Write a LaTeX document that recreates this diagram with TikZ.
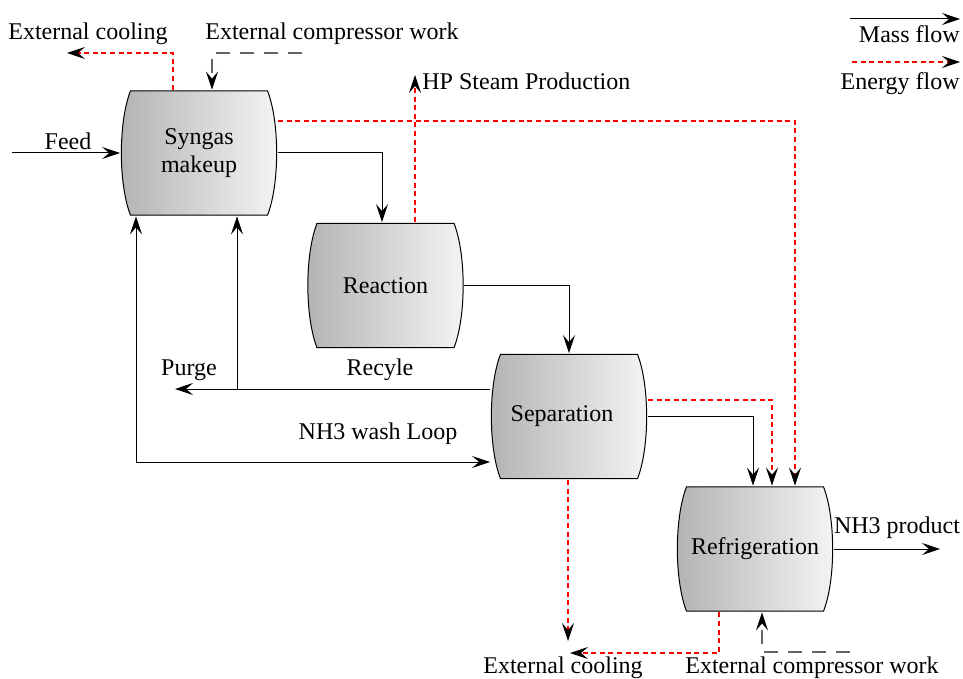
\documentclass[tikz,border=0pt]{standalone}
\usepackage{fontspec}
\setmainfont{Liberation Serif}
\usepackage{tikz}
\usetikzlibrary{arrows.meta, calc, positioning}

\tikzstyle{unit} = [rectangle,
minimum width=78.5pt,
minimum height=63pt,
align=center,
path picture={
\shadedraw[left color=gray!60, right color=white!96!black, line width=0.5pt]
([xshift=5pt,yshift=-0.4pt]path picture bounding box.north west)
-- ([xshift=-5pt,yshift=-0.4pt]path picture bounding box.north east)
.. controls ([xshift=1.1pt,yshift=-16pt]path picture bounding box.north east)
and ([xshift=1.1pt,yshift=16pt]path picture bounding box.south east)
.. ([xshift=-5pt,yshift=0.4pt]path picture bounding box.south east)
-- ([xshift=5pt,yshift=0.4pt]path picture bounding box.south west)
.. controls ([xshift=-1.1pt,yshift=16pt]path picture bounding box.south west)
and ([xshift=-1.1pt,yshift=-16pt]path picture bounding box.north west)
.. cycle;
}]
\tikzstyle{flowtext} = [inner sep=0pt, anchor=base]
\tikzstyle{mass} = [line width=0.5pt,
-{Stealth[length=9pt, width=6pt, inset=3.5pt]}]
\tikzstyle{energy} = [red, line width=0.6pt,
dash pattern=on 2.5pt off 1.8pt,
-{Stealth[black, length=9pt, width=6pt, inset=3.5pt]}]
\tikzstyle{work} = [black!60, line width=0.6pt,
dash pattern=on 7pt off 5pt,
-{Stealth[black, length=9pt, width=6pt, inset=3.5pt]}]

\begin{document}
\begin{tikzpicture}[x=0.5pt, y=-0.5pt, font=\fontsize{12}{14}\selectfont]
\useasboundingbox (0,0) rectangle (963,679);

% process units
\node (syn) [unit] at (199,153) {Syngas\\makeup};
\node (rea) [unit] at (385.5,285.5) {Reaction};
\node (sep) [unit] at (569,416.5) {Separation\hspace*{7pt}};
\node (ref) [unit] at (755,549) {Refrigeration};

% free ends
\coordinate (feed) at (12,153);
\coordinate (hp) at (415,75);
\coordinate (purge) at (175,389);
\coordinate (rcyc) at (237,389);
\coordinate (prod) at (940,549);
\coordinate (coolA) at (67,53);
\coordinate (workA) at (302,53);
\coordinate (coolB) at (568,641);
\coordinate (coolC) at (570,653);
\coordinate (workB) at (850,652);
\coordinate (massA) at (850,19);
\coordinate (massB) at (960,19);
\coordinate (enA) at (852,62);
\coordinate (enB) at (960,62);

% texts
\node (coolAtext) [flowtext] at (88,40) {External cooling};
\node (workAtext) [flowtext] at (332,40) {External compressor work};
\node (hptext) [flowtext, anchor=base west] at (422,90) {HP Steam Production};
\node (feedtext) [flowtext] at (68,150) {Feed};
\node (purgetext) [flowtext] at (189,375) {Purge};
\node (rcytext) [flowtext] at (380,375) {Recyle};
\node (washtext) [flowtext] at (378,439) {NH3 wash Loop};
\node (prodtext) [flowtext] at (897,533) {NH3 product};
\node (coolBtext) [flowtext] at (563,673) {External cooling};
\node (workBtext) [flowtext] at (812,673) {External compressor work};
\node (masstext) [flowtext, anchor=base east] at (960,43) {Mass flow};
\node (entext) [flowtext, anchor=base east] at (960,90) {Energy flow};

% mass flows
\draw [mass] (feed) -- (syn.west);
\draw [mass] (syn.east) -| ([xshift=-1.75pt]rea.north);
\draw [mass] (rea.east) -| (sep.north);
\draw [mass] (sep.east) -| ([xshift=-1pt]ref.north);
\draw [mass] (purge -| sep.west) -- (purge);
\draw [mass] (rcyc) -- (rcyc |- syn.south);
\draw [mass, {Stealth[length=9pt, width=6pt, inset=3.5pt]}-{Stealth[length=9pt, width=6pt, inset=3.5pt]}]
([xshift=-31.5pt]syn.south) |- ([yshift=-22.75pt]sep.west);
\draw [mass] (ref.east) -- (prod);

% energy flows
\draw [energy] (hp |- rea.north) -- (hp);
\draw [energy] ([yshift=16pt]syn.east) -| ([xshift=20pt]ref.north);
\draw [energy] ([yshift=8.25pt]sep.east) -| ([xshift=8.5pt]ref.north);
\draw [energy] ([xshift=-13pt]syn.north) |- (coolA);
\draw [energy] (coolB |- sep.south) -- (coolB);
\draw [energy] ([xshift=-18pt]ref.south) |- (coolC);
\draw [work] (workA) -| ([xshift=6.5pt]syn.north);
\draw [work] (workB) -| ([xshift=3.5pt]ref.south);

% legend
\draw [mass] (massA) -- (massB);
\draw [energy] (enA) -- (enB);

\end{tikzpicture}
\end{document}
